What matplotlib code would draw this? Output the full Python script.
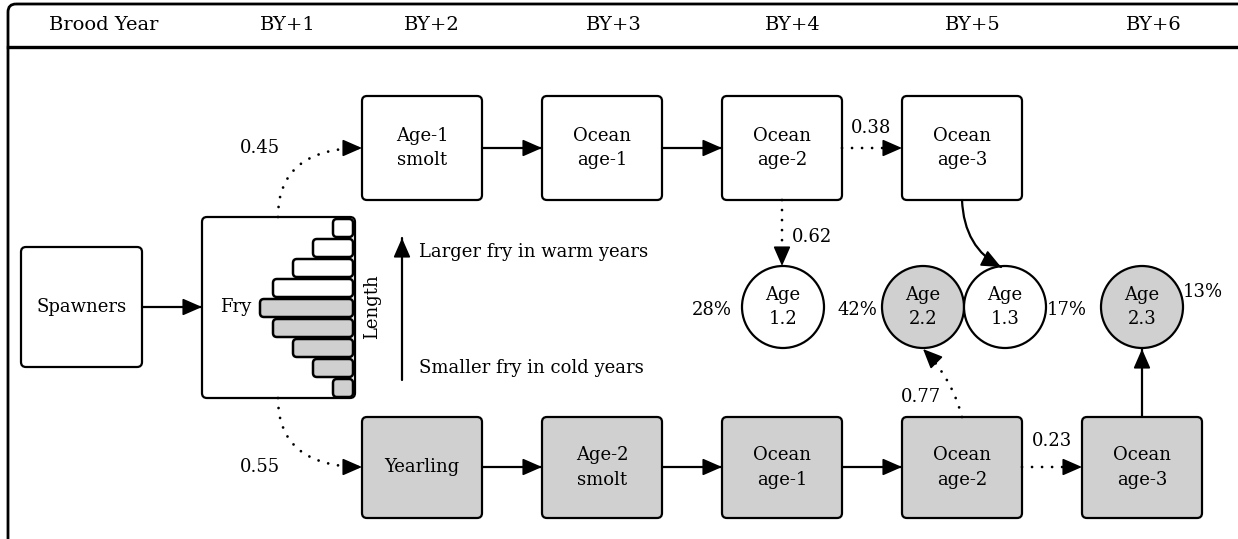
import numpy as np
import matplotlib.pyplot as plt
from matplotlib.patches import FancyBboxPatch, FancyArrowPatch, Circle
from matplotlib.path import Path

# header labels
years = ["Brood Year", "BY+1", "BY+2", "BY+3", "BY+4", "BY+5", "BY+6"]
year_x = [104, 288, 432, 614, 793, 973, 1154]

# fry length histogram (top = larger fry), relative bar lengths
fry_bars = [1, 2, 3, 4, 4.65, 4, 3, 2, 1]
fry_warm = [True, True, True, True, False, False, False, False, False]

# transition probabilities
p_age1_smolt = 0.45
p_yearling = 0.55
p_top_stay = 0.38
p_top_mature = 0.62
p_bot_stay = 0.23
p_bot_mature = 0.77

# age composition of returns
age_labels = ["1.2", "2.2", "1.3", "2.3"]
age_share = [28, 42, 17, 13]
age_gray = [False, True, False, True]

top_row = ["Age-1\nsmolt", "Ocean\nage-1", "Ocean\nage-2", "Ocean\nage-3"]
bot_row = ["Yearling", "Age-2\nsmolt", "Ocean\nage-1", "Ocean\nage-2", "Ocean\nage-3"]

GRAY = "#d0d0d0"
FS = 13
plt.rcParams["font.family"] = ["DejaVu Serif"]

fig = plt.figure(figsize=(12.38, 5.39), dpi=100)
ax = fig.add_axes([0, 0, 1, 1])
ax.set_xlim(0, 1238)
ax.set_ylim(539, 0)
ax.axis("off")


def box(x0, y0, w, h, text, fill="white", lw=1.6, r=5):
    ax.add_patch(FancyBboxPatch((x0, y0), w, h,
                                boxstyle=f"round,pad=0,rounding_size={r}",
                                fc=fill, ec="black", lw=lw))
    if text:
        ax.text(x0 + w / 2, y0 + h / 2, text, ha="center", va="center",
                fontsize=FS, linespacing=1.45)


HEAD = "-|>,head_length=0.8,head_width=0.35"


def arrow(p0, p1, ctrl=None, dotted=False):
    # line (straight or quadratic curve) plus a solid head at p1
    if ctrl is None:
        ctrl = ((p0[0] + p1[0]) / 2, (p0[1] + p1[1]) / 2)
    path = Path([p0, ctrl, p1], [Path.MOVETO, Path.CURVE3, Path.CURVE3])
    ls = (0, (0.01, 3.6)) if dotted else "-"
    ax.add_patch(FancyArrowPatch(path=path, arrowstyle="-", lw=2.0 if dotted else 1.6,
                                 ls=ls, color="black", capstyle="round"))
    d = np.array(p1, float) - np.array(ctrl, float)
    d = d / np.hypot(*d)
    start = np.array(p1, float) - d * 12
    ax.add_patch(FancyArrowPatch(tuple(start), p1, arrowstyle=HEAD,
                                 mutation_scale=15, lw=1.2, color="black",
                                 shrinkA=0, shrinkB=0))


def label(x, y, s, **kw):
    ax.text(x, y, s, ha="center", va="center", fontsize=FS, **kw)


# outer frame and header
ax.add_patch(FancyBboxPatch((8, 4), 1300, 600,
                            boxstyle="round,pad=0,rounding_size=8",
                            fc="none", ec="black", lw=2.0))
ax.plot([8, 1238], [47, 47], color="black", lw=2.4)
for lab, x in zip(years, year_x):
    ax.text(x, 25, lab, ha="center", va="center", fontsize=14)

# spawners and fry
box(21, 247, 121, 120, "Spawners")
arrow((142, 307), (202, 307))
box(202, 217, 153, 181, None)
label(236, 307, "Fry")
bar_h = 20
for i, (v, warm) in enumerate(zip(fry_bars, fry_warm)):
    y0 = 218 + i * bar_h
    L = v * 20
    box(353 - L, y0 + 1, L, bar_h - 2, None, fill="white" if warm else GRAY,
        lw=1.8, r=4)
label(372, 307, "Length", rotation=90)

arrow((402, 380), (402, 238))
ax.text(419, 252, "Larger fry in warm years", ha="left", va="center", fontsize=FS)
ax.text(419, 368, "Smaller fry in cold years", ha="left", va="center", fontsize=FS)

# top (age-1 smolt) pathway
top_x = [362, 542, 722, 902]
for lab, x in zip(top_row, top_x):
    box(x, 96, 120, 104, lab)
arrow((482, 148), (542, 148))
arrow((662, 148), (722, 148))
arrow((842, 148), (902, 148), dotted=True)
label(871, 128, f"{p_top_stay:.2f}")

# bottom (yearling) pathway
bot_x = [362, 542, 722, 902, 1082]
for lab, x in zip(bot_row, bot_x):
    box(x, 417, 120, 101, lab, fill=GRAY)
arrow((482, 467), (542, 467))
arrow((662, 467), (722, 467))
arrow((842, 467), (902, 467))
arrow((1022, 467), (1082, 467), dotted=True)
label(1052, 441, f"{p_bot_stay:.2f}")

# fry to smolt branches
arrow((278, 217), (362, 148), ctrl=(278, 148), dotted=True)
arrow((278, 398), (362, 467), ctrl=(278, 467), dotted=True)
label(260, 148, f"{p_age1_smolt:.2f}")
label(260, 467, f"{p_yearling:.2f}")

# returning adults
circ_x = [783, 923, 1005, 1142]
R = 41
for lab, x, g in zip(age_labels, circ_x, age_gray):
    ax.add_patch(Circle((x, 307), R, fc=GRAY if g else "white",
                        ec="black", lw=1.6))
    label(x, 307, f"Age\n{lab}", linespacing=1.45)
pct_pos = [(712, 310), (857, 310), (1067, 310), (1203, 292)]
for s, (x, y) in zip(age_share, pct_pos):
    label(x, y, f"{s}%")

arrow((782, 200), (782, 266), dotted=True)
label(812, 237, f"{p_top_mature:.2f}")
arrow((962, 200), (1001, 267), ctrl=(964, 248))
arrow((962, 417), (923, 349), ctrl=(952, 378), dotted=True)
label(921, 397, f"{p_bot_mature:.2f}")
arrow((1142, 417), (1142, 349))

fig.savefig("out.png", dpi=100)
